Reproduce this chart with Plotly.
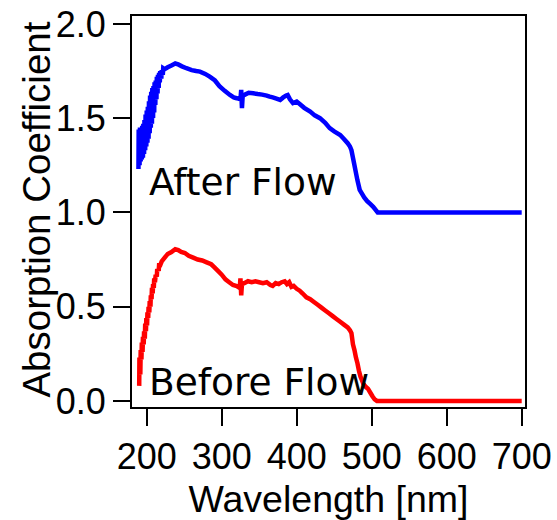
import plotly.graph_objects as go

# Wavelength [nm] and absorption coefficient
wl_before = [190.0, 190.3, 191.5, 192.0, 193.0, 193.5, 194.5, 195.0, 196.0, 196.5, 197.5, 198.0, 199.0, 199.5,
             200.5, 201.0, 202.0, 202.5, 203.5, 204.0, 205.0, 205.5, 206.5, 207.0, 208.0, 208.5, 209.5, 210.0,
             211.0, 212.0, 213.5, 214.0, 216.0, 216.5, 218.0, 220.0,
             224, 228, 233, 238, 242, 246, 251, 256, 262, 268, 274, 280, 286, 290, 295,
             300, 305, 310, 315, 320, 324, 325, 326, 327, 330, 335, 340, 345, 350, 355, 360, 365, 368,
             372, 376, 380, 384, 387, 390, 393, 396, 400, 404, 408, 413, 418, 423, 428, 433, 438, 443,
             448, 453, 458, 463, 468, 471, 473, 475, 477, 479, 481, 483, 485, 487, 489, 492, 495, 498,
             501, 504, 507, 550, 600, 650, 700]
before = [0.08, 0.23, 0.14, 0.27, 0.22, 0.31, 0.26, 0.34, 0.30, 0.37, 0.33, 0.41, 0.37, 0.44,
          0.40, 0.47, 0.44, 0.50, 0.47, 0.53, 0.50, 0.56, 0.54, 0.60, 0.57, 0.62, 0.60, 0.65,
          0.63, 0.67, 0.66, 0.70, 0.69, 0.72, 0.72, 0.74,
          0.76, 0.78, 0.79, 0.805, 0.80, 0.79, 0.785, 0.77, 0.76, 0.75, 0.745, 0.735, 0.725, 0.71, 0.69,
          0.67, 0.645, 0.63, 0.615, 0.61, 0.60, 0.65, 0.56, 0.62, 0.625, 0.635, 0.63, 0.635, 0.63, 0.625, 0.63, 0.615, 0.61,
          0.625, 0.62, 0.63, 0.635, 0.62, 0.63, 0.605, 0.61, 0.595, 0.585, 0.57, 0.55, 0.54, 0.525, 0.51, 0.495, 0.48, 0.465,
          0.45, 0.435, 0.42, 0.405, 0.39, 0.375, 0.36, 0.30, 0.27, 0.23, 0.20, 0.16, 0.13, 0.11, 0.09, 0.075, 0.065, 0.045,
          0.025, 0.008, 0.0, 0.0, 0.0, 0.0, 0.0]

wl_after = [189.0, 189.3, 190.5, 191.0, 192.0, 192.5, 193.5, 194.0, 195.0, 195.5, 196.5, 197.0, 198.0, 198.5,
            199.5, 200.0, 201.0, 201.5, 202.5, 203.0, 204.0, 204.5, 205.5, 206.0, 207.0, 207.5, 208.5, 209.0,
            210.0, 210.5, 211.5, 212.0, 213.0, 213.5, 214.5, 215.0, 216.0, 216.5, 217.5, 218.0, 219.5, 220.0,
            221.5, 222.0,
            224, 228, 233, 238, 242, 247, 253, 260, 266, 271, 278, 284, 291,
            297, 304, 311, 316, 320, 325, 326, 327, 328, 331, 336, 342, 348, 354, 360, 364, 368, 372,
            378, 382, 386, 388, 391, 395, 400, 404, 410, 418, 424, 431, 438, 444, 450, 458, 463, 468,
            471, 473, 475, 477, 479, 481, 484, 487, 490, 494, 498, 502, 505, 508, 512, 550, 600, 650, 700]
after = [1.23, 1.44, 1.25, 1.45, 1.27, 1.45, 1.28, 1.46, 1.29, 1.47, 1.31, 1.49, 1.33, 1.52,
         1.35, 1.54, 1.37, 1.56, 1.39, 1.59, 1.42, 1.62, 1.45, 1.64, 1.47, 1.66, 1.50, 1.67,
         1.53, 1.69, 1.57, 1.70, 1.60, 1.72, 1.63, 1.73, 1.66, 1.74, 1.69, 1.75, 1.71, 1.755,
         1.73, 1.765,
         1.76, 1.77, 1.78, 1.79, 1.785, 1.775, 1.765, 1.755, 1.75, 1.747, 1.735, 1.72, 1.70,
         1.67, 1.645, 1.623, 1.61, 1.606, 1.60, 1.65, 1.553, 1.62, 1.625, 1.635, 1.632, 1.628, 1.625, 1.62, 1.614, 1.61, 1.605,
         1.597, 1.61, 1.62, 1.623, 1.60, 1.58, 1.588, 1.575, 1.555, 1.535, 1.515, 1.50, 1.475, 1.447, 1.43, 1.411, 1.39, 1.367,
         1.35, 1.33, 1.29, 1.25, 1.21, 1.17, 1.12, 1.10, 1.08, 1.06, 1.045, 1.03, 1.015, 1.0, 1.0, 1.0, 1.0, 1.0, 1.0]

x_ticks = [200, 300, 400, 500, 600, 700]
y_ticks = [0.0, 0.5, 1.0, 1.5, 2.0]
labels = ["After Flow", "Before Flow"]
x_title = "Wavelength [nm]"
y_title = "Absorption Coefficient"

fig = go.Figure()
fig.add_trace(go.Scatter(x=wl_after, y=after, mode="lines",
                         line=dict(color="#0000FF", width=4.5, simplify=False), showlegend=False))
fig.add_trace(go.Scatter(x=wl_before, y=before, mode="lines",
                         line=dict(color="#FF0000", width=4.5, simplify=False), showlegend=False))

fig.add_annotation(x=200.4, y=1.16, xref="x", yref="y", text=labels[0], showarrow=False,
                   xanchor="left", yanchor="middle",
                   font=dict(family="DejaVu Sans", size=37.5, color="black"))
fig.add_annotation(x=200.4, y=0.10, xref="x", yref="y", text=labels[1], showarrow=False,
                   xanchor="left", yanchor="middle",
                   font=dict(family="DejaVu Sans", size=37.5, color="black"))

# y-axis title placed as rotated text left of the tick labels
fig.add_annotation(x=-0.2417, y=0.505, xref="paper", yref="paper", text=y_title, showarrow=False,
                   textangle=-90, xanchor="center", yanchor="middle",
                   font=dict(family="Liberation Sans", size=38.5, color="black"))

axis_common = dict(showgrid=False, zeroline=False, showline=True, linecolor="black", linewidth=2,
                   mirror=True, ticks="outside", tickcolor="black", tickwidth=2, ticklen=17,
                   automargin=False)

fig.update_xaxes(range=[180.4, 704.4], tickvals=x_ticks, tickfont=dict(family="Liberation Sans", size=36, color="black"),
                 title=dict(text=x_title, font=dict(family="Liberation Sans", size=37.5, color="black"), standoff=12),
                 **axis_common)
fig.update_yaxes(range=[-0.032, 2.042], tickvals=y_ticks, tickformat=".1f",
                 tickfont=dict(family="Liberation Sans", size=36, color="black"),
                 **axis_common)

fig.update_layout(width=557, height=520, margin=dict(l=132, r=32, t=16, b=113),
                  paper_bgcolor="white", plot_bgcolor="white")

fig.write_html("out.html")
